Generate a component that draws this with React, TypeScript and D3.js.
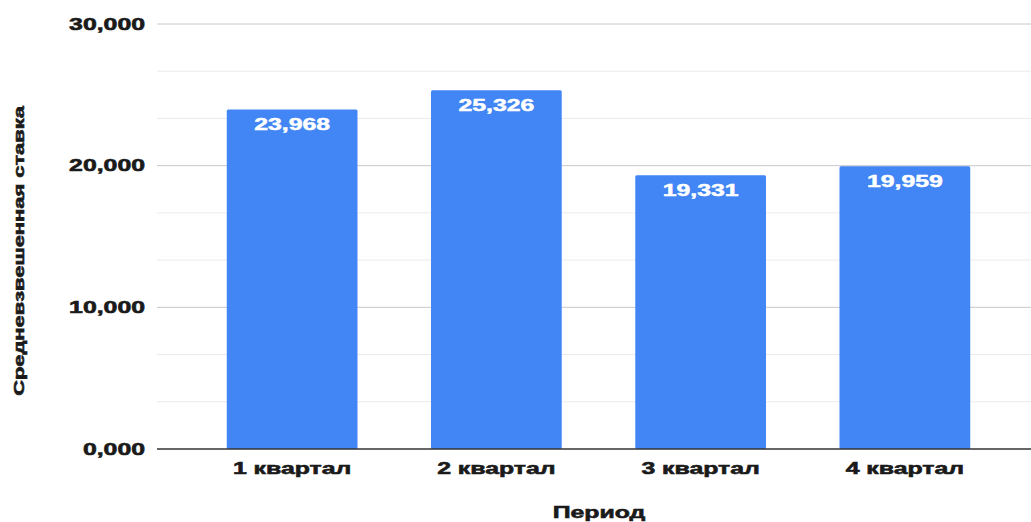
import React from "react";
import * as d3 from "d3";

const categories = ["1 квартал", "2 квартал", "3 квартал", "4 квартал"];
const values = [23968, 25326, 19331, 19959];
const majorTicks = [0, 10000, 20000, 30000];
const xTitle = "Период";
const yTitle = "Средневзвешенная ставка";

const W = 1031;
const H = 522;
const FONT = "'Liberation Sans', Arial, sans-serif";
const SX = 1.46; // horizontal stretch of all labels
const INK = "#1a1a1a";

export default function App() {
  const x = d3
    .scaleBand<string>()
    .domain(categories)
    .range([190, 1007])
    .paddingInner(0.36)
    .paddingOuter(0.18);
  const y = d3.scaleLinear().domain([0, 30000]).range([449, 24]);

  const tickFmt = d3.format("05,");
  const valFmt = d3.format(",");

  // minor lines at thirds between major ticks
  const minor: number[] = [];
  for (let i = 0; i < majorTicks.length - 1; i++) {
    const a = majorTicks[i];
    const b = majorTicks[i + 1];
    minor.push(a + (b - a) / 3, a + (2 * (b - a)) / 3);
  }

  const gridX0 = 157;
  const gridX1 = W;

  const darkText = {
    fontFamily: FONT,
    fontWeight: "bold" as const,
    fill: INK,
    stroke: INK,
    strokeWidth: 0.6,
  };

  return (
    <div style={{ position: "absolute", left: 0, top: 0 }}>
      <svg width={W} height={H} style={{ display: "block", background: "#fff" }}>
        <rect width={W} height={H} fill="#fff" />
        {minor.map((t) => (
          <line key={"m" + t} x1={gridX0} x2={gridX1} y1={y(t)} y2={y(t)} stroke="#ebebeb" strokeWidth={1} />
        ))}
        {majorTicks
          .filter((t) => t !== 0)
          .map((t) => (
            <line key={"g" + t} x1={gridX0} x2={gridX1} y1={y(t)} y2={y(t)} stroke="#c8c8c8" strokeWidth={1} />
          ))}
        {categories.map((c, i) => (
          <rect
            key={c}
            x={x(c)}
            y={y(values[i])}
            width={x.bandwidth()}
            height={y(0) - y(values[i])}
            fill="#4285f4"
            rx={1.5}
          />
        ))}
        <line x1={gridX0} x2={gridX1} y1={y(0)} y2={y(0)} stroke="#333" strokeWidth={1.5} />
        {categories.map((c, i) => (
          <text
            key={"v" + c}
            transform={`translate(${(x(c) as number) + x.bandwidth() / 2},${y(values[i]) + 15}) scale(${SX},1)`}
            textAnchor="middle"
            dominantBaseline="central"
            fontFamily={FONT}
            fontWeight="bold"
            fontSize={17}
            fill="#fff"
            stroke="#fff"
            strokeWidth={0.5}
          >
            {valFmt(values[i])}
          </text>
        ))}
        {majorTicks.map((t) => (
          <text
            key={"t" + t}
            transform={`translate(145,${y(t)}) scale(${SX},1)`}
            textAnchor="end"
            dominantBaseline="central"
            fontSize={17}
            {...darkText}
          >
            {tickFmt(t)}
          </text>
        ))}
        {categories.map((c) => (
          <text
            key={"x" + c}
            transform={`translate(${(x(c) as number) + x.bandwidth() / 2},468) scale(${SX},1)`}
            textAnchor="middle"
            dominantBaseline="central"
            fontSize={17}
            {...darkText}
          >
            {c}
          </text>
        ))}
        <text
          transform={`translate(599,512) scale(${SX},1)`}
          textAnchor="middle"
          dominantBaseline="central"
          fontSize={17}
          {...darkText}
        >
          {xTitle}
        </text>
        <text
          transform={`translate(19,251) rotate(-90) scale(${SX},1)`}
          textAnchor="middle"
          dominantBaseline="central"
          fontSize={15}
          {...darkText}
        >
          {yTitle}
        </text>
      </svg>
    </div>
  );
}
